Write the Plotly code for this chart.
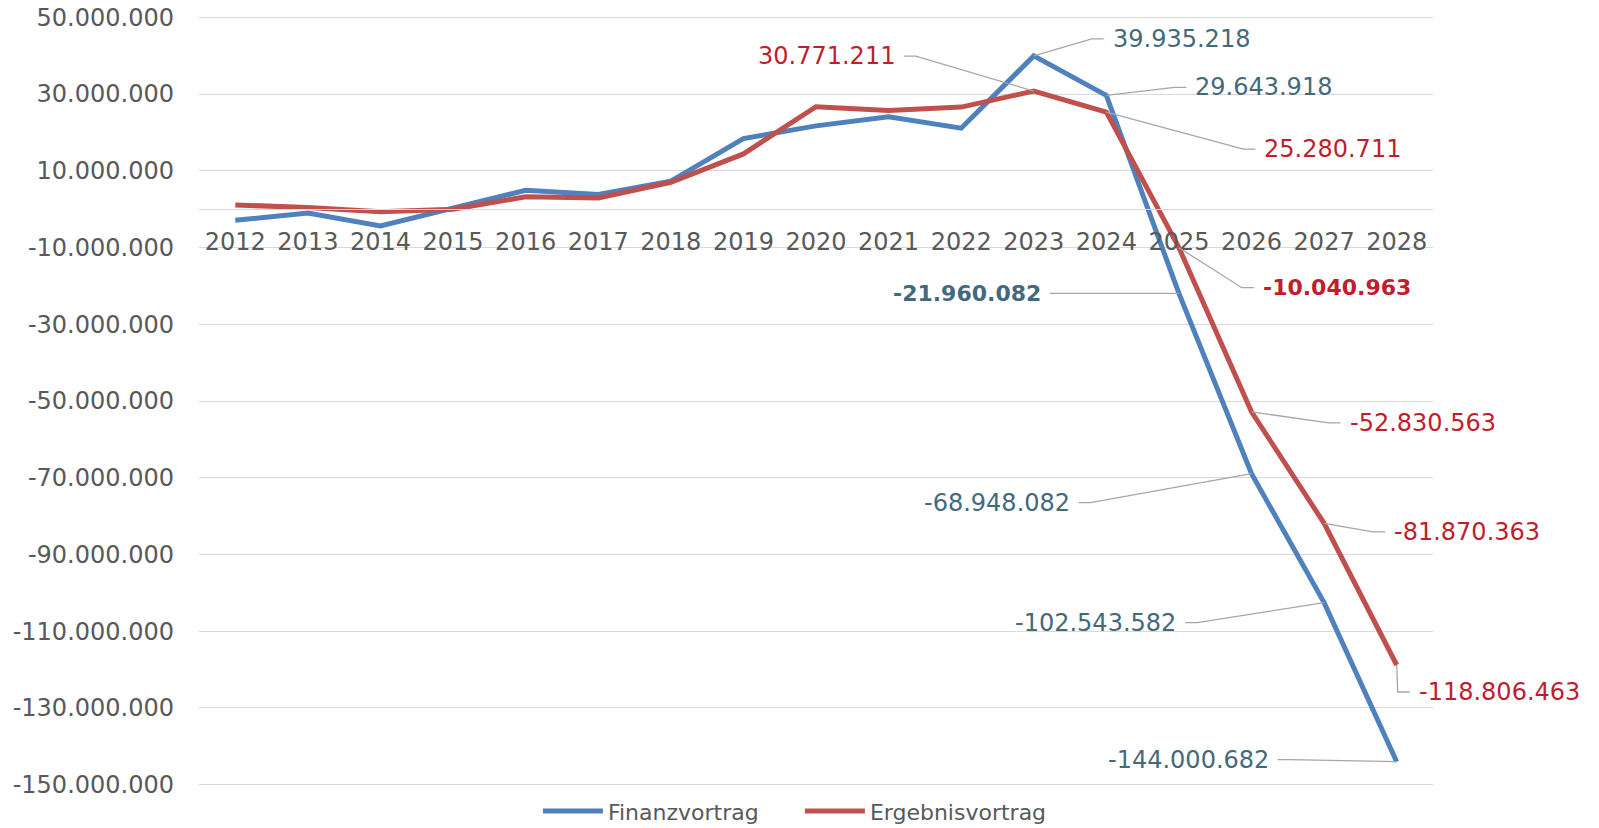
import plotly.graph_objects as go

# ---------------- data ----------------
YEARS = [2012, 2013, 2014, 2015, 2016, 2017, 2018, 2019, 2020,
         2021, 2022, 2023, 2024, 2025, 2026, 2027, 2028]

FINANZVORTRAG = [-2.9e6, -1.0e6, -4.4e6, 0.2e6, 4.9e6, 3.8e6, 7.3e6, 18.4e6, 21.7e6,
                 24.1e6, 21.1e6, 39935218, 29643918, -21960082, -68948082,
                 -102543582, -144000682]

ERGEBNISVORTRAG = [1.1e6, 0.4e6, -0.7e6, 0.0e6, 3.2e6, 2.9e6, 7.0e6, 14.4e6, 26.7e6,
                   25.7e6, 26.6e6, 30771211, 25280711, -10040963, -52830563,
                   -81870363, -118806463]

SERIES_NAMES = ["Finanzvortrag", "Ergebnisvortrag"]

Y_TICKS = [50e6, 30e6, 10e6, -10e6, -30e6, -50e6, -70e6, -90e6, -110e6, -130e6, -150e6]

LABELED_YEARS = [2023, 2024, 2025, 2026, 2027, 2028]

# ---------------- styles / layout ----------------
W, H = 1599, 828
M_L, M_R, M_T, M_B = 199, 166, 15, 41
Y_PAD = 0.6e6   # small range padding so the edge gridlines are drawn
FONT = "DejaVu Sans"
LINE_COLORS = ["#4F81BD", "#C0504D"]
LABEL_COLORS = ["#44697C", "#BF1E2E"]
GRID = "#D9D9D9"
LEADER = "#A6A6A6"
TICK_COLOR = "#595959"

# label placement (pixel offsets from the data point: text edge x, text centre y; +y = down)
LABEL_OFFSETS = {
    0: [(78, -17), (88, -8), (-137, 0), (-181, 29), (-147, 20), (-127, -2)],
    1: [(-138, -35), (157, 37), (83, 40), (97, 11), (69, 8.5), (21, 27)],
}
BOLD_LABELS = {(0, 2025), (1, 2025)}
GAP, STUB = 8, 12


def fmt(v):
    s = f"{abs(int(round(v))):,}".replace(",", ".")
    return ("-" if v < 0 else "") + s


fig = go.Figure()
for name, vals, col in zip(SERIES_NAMES, [FINANZVORTRAG, ERGEBNISVORTRAG], LINE_COLORS):
    fig.add_trace(go.Scatter(x=YEARS, y=vals, name=name, mode="lines",
                             line=dict(color=col, width=5)))

annotations = []
shapes = []
for si, vals in enumerate([FINANZVORTRAG, ERGEBNISVORTRAG]):
    for k, yr in enumerate(LABELED_YEARS):
        v = vals[YEARS.index(yr)]
        dx, dy = LABEL_OFFSETS[si][k]
        side = 1 if dx > 0 else -1
        bold = (si, yr) in BOLD_LABELS
        annotations.append(dict(
            x=yr, y=v, xref="x", yref="y", text=fmt(v), showarrow=False,
            xanchor="left" if side > 0 else "right", yanchor="middle",
            xshift=dx, yshift=-dy, borderpad=0,
            font=dict(family=FONT, size=22 if bold else 24,
                      weight="bold" if bold else "normal",
                      color=LABEL_COLORS[si])))
        tx = dx - side * GAP
        ex = tx - side * STUB
        if side * ex < 0:
            ex = 0
        path = f"M 0,0 L {ex},{-dy} L {tx},{-dy}"
        shapes.append(dict(type="path", xref="x", yref="y",
                           xsizemode="pixel", ysizemode="pixel",
                           xanchor=yr, yanchor=v, path=path,
                           line=dict(color=LEADER, width=1.3), layer="above"))

y_lo, y_hi = Y_TICKS[-1] - Y_PAD, Y_TICKS[0] + Y_PAD

fig.update_layout(
    width=W, height=H,
    margin=dict(l=M_L, r=M_R, t=M_T, b=M_B, pad=0, autoexpand=False),
    paper_bgcolor="white", plot_bgcolor="white",
    font=dict(family=FONT, size=24, color=TICK_COLOR),
    showlegend=True,
    legend=dict(orientation="h", xref="container", yref="paper",
                x=0.3364, xanchor="left", y=-0.0315, yanchor="middle",
                font=dict(family=FONT, size=22, color=TICK_COLOR),
                itemwidth=60, entrywidth=187, tracegroupgap=0),
    annotations=annotations,
    shapes=shapes,
    xaxis=dict(type="linear", range=[YEARS[0] - 0.5, YEARS[-1] + 0.5],
               tickvals=YEARS, ticktext=[str(y) for y in YEARS],
               anchor="free", position=(0 - y_lo) / (y_hi - y_lo),
               showline=True, linecolor=GRID, linewidth=1.3,
               showgrid=False, zeroline=False, ticks="", automargin=False,
               ticklabelstandoff=11,
               tickfont=dict(family=FONT, size=24, color=TICK_COLOR)),
    yaxis=dict(range=[y_lo, y_hi], tickvals=Y_TICKS,
               ticktext=[fmt(t) for t in Y_TICKS],
               showgrid=True, gridcolor=GRID, gridwidth=1.3,
               zeroline=False, showline=False, ticks="", automargin=False,
               ticklabelstandoff=24,
               tickfont=dict(family=FONT, size=24, color=TICK_COLOR)),
)

fig.write_html("out.html", config={"displayModeBar": False},
               post_script="document.body.style.margin='0';document.body.style.overflow='hidden';")
